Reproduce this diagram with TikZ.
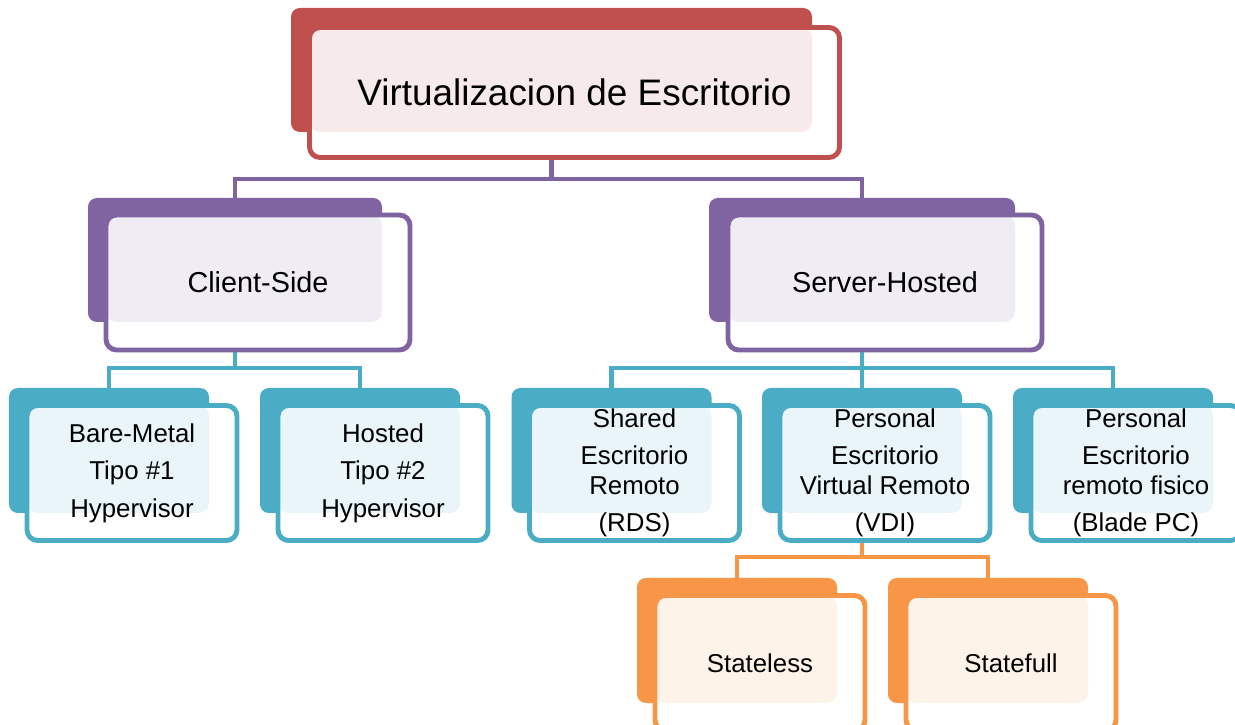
\documentclass[tikz,border=0pt]{standalone}
\usepackage{fontspec}
\setmainfont{Liberation Sans}
\usetikzlibrary{calc,positioning}

\definecolor{redA}{HTML}{C0504D}
\definecolor{purpleA}{HTML}{8064A2}
\definecolor{tealA}{HTML}{4BACC6}
\definecolor{orangeA}{HTML}{F79646}

\newcommand{\bigtxt}{\fontsize{21pt}{25pt}\selectfont}
\newcommand{\midtxt}{\fontsize{16.4pt}{20pt}\selectfont}
\newcommand{\smalltxt}{\fontsize{14.7pt}{21.3pt}\selectfont}

\begin{document}
\begin{tikzpicture}[
    backbox/.style={fill=#1, rounded corners=5pt, inner sep=0pt, outer sep=0pt},
    frontbox/.style 2 args={draw=#1, line width=2.8pt, fill=white, rounded corners=6pt,
      inner sep=0pt, outer sep=0pt, align=center,
      path picture={\fill[#1!12] (path picture bounding box.north west) rectangle (#2.south east);}},
    leafsize/.style={minimum width=4.2cm, minimum height=2.7cm, font=\smalltxt},
    link/.style={draw=#1, line width=2.8pt}
  ]
      \useasboundingbox (0,0) rectangle (24.7,-14.5);
      % back plates
      \node[backbox=redA, minimum width=10.42cm, minimum height=2.48cm] (topB) at (11.03,-1.40) {};
      \node[backbox=purpleA, minimum width=5.88cm, minimum height=2.48cm] (clientB) at (4.70,-5.20) {};
      \node[backbox=purpleA, minimum width=6.12cm, minimum height=2.48cm] (serverB) at (17.24,-5.20) {};
      \node[backbox=tealA, minimum width=4cm, minimum height=2.5cm] (bareB) at (2.18,-9.01) {};
      \node[backbox=tealA, minimum width=4cm, minimum height=2.5cm] (hostedB) at (7.20,-9.01) {};
      \node[backbox=tealA, minimum width=4cm, minimum height=2.5cm] (sharedB) at (12.23,-9.01) {};
      \node[backbox=tealA, minimum width=4cm, minimum height=2.5cm] (vdiB) at (17.24,-9.01) {};
      \node[backbox=tealA, minimum width=4cm, minimum height=2.5cm] (bladeB) at (22.26,-9.01) {};
      \node[backbox=orangeA, minimum width=4cm, minimum height=2.5cm] (statelessB) at (14.74,-12.81) {};
      \node[backbox=orangeA, minimum width=4cm, minimum height=2.5cm] (statefullB) at (19.76,-12.81) {};
      % connectors
      \draw[link=purpleA] (topB.south) -- ++(0,-0.94) -| (clientB.north);
      \draw[link=purpleA] (topB.south) -- ++(0,-0.94) -| (serverB.north);
      \draw[link=tealA] (clientB.south) -- ++(0,-0.92) -| (bareB.north);
      \draw[link=tealA] (clientB.south) -- ++(0,-0.92) -| (hostedB.north);
      \draw[link=tealA] (serverB.south) -- ++(0,-0.92) -| (sharedB.north);
      \draw[link=tealA] (serverB.south) -- ++(0,-0.92) -| (vdiB.north);
      \draw[link=tealA] (serverB.south) -- ++(0,-0.92) -| (bladeB.north);
      \draw[link=orangeA] (vdiB.south) -- ++(0,-0.88) -| (statelessB.north);
      \draw[link=orangeA] (vdiB.south) -- ++(0,-0.88) -| (statefullB.north);
      % front boxes
      \node[frontbox={redA}{topB}, minimum width=10.6cm, minimum height=2.6cm, font=\bigtxt] (top) at ([shift={(0.46,-0.45)}]topB) {Virtualizacion de Escritorio};
      \node[frontbox={purpleA}{clientB}, minimum width=6.08cm, minimum height=2.7cm, font=\midtxt] (client) at ([shift={(0.46,-0.45)}]clientB) {Client-Side};
      \node[frontbox={purpleA}{serverB}, minimum width=6.28cm, minimum height=2.7cm, font=\midtxt] (server) at ([shift={(0.46,-0.45)}]serverB) {Server-Hosted};
      \node[frontbox={tealA}{bareB}, leafsize] (bare) at ([shift={(0.46,-0.45)}]bareB) {Bare-Metal\\Tipo \#1\\Hypervisor};
      \node[frontbox={tealA}{hostedB}, leafsize] (hosted) at ([shift={(0.46,-0.45)}]hostedB) {Hosted\\Tipo \#2\\Hypervisor};
      \node[frontbox={tealA}{sharedB}, leafsize] (shared) at ([shift={(0.46,-0.45)}]sharedB) {Shared\\Escritorio\\[-4.5pt]Remoto\\(RDS)};
      \node[frontbox={tealA}{vdiB}, leafsize] (vdi) at ([shift={(0.46,-0.45)}]vdiB) {Personal\\Escritorio\\[-4.5pt]Virtual Remoto\\(VDI)};
      \node[frontbox={tealA}{bladeB}, leafsize] (blade) at ([shift={(0.46,-0.45)}]bladeB) {Personal\\Escritorio\\[-4.5pt]remoto fisico\\(Blade PC)};
      \node[frontbox={orangeA}{statelessB}, leafsize] (stateless) at ([shift={(0.46,-0.45)}]statelessB) {Stateless};
      \node[frontbox={orangeA}{statefullB}, leafsize] (statefull) at ([shift={(0.46,-0.45)}]statefullB) {Statefull};
\end{tikzpicture}
\end{document}
